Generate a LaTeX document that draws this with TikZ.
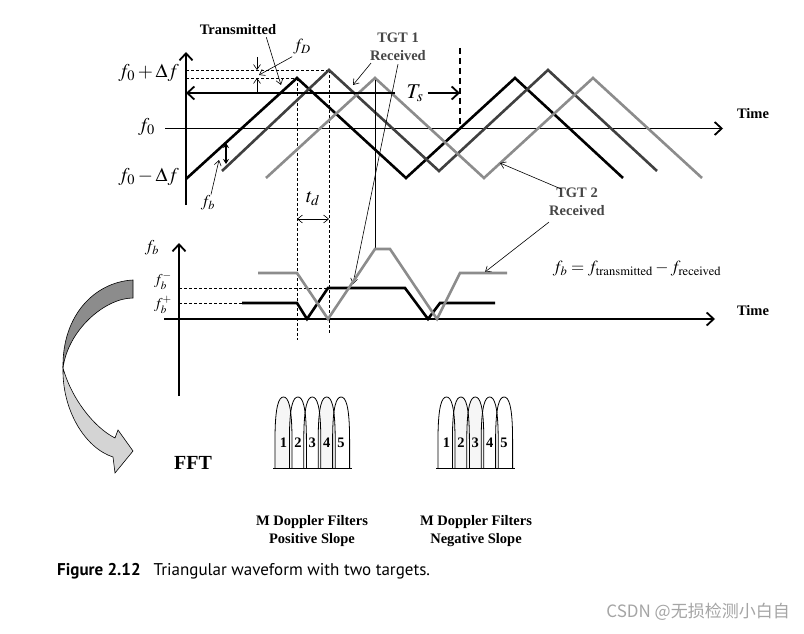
\documentclass[tikz,border=0pt]{standalone}
\usepackage{mathptmx}
\usepackage[no-math]{fontspec}
\setmainfont{Liberation Serif}
\newfontfamily\capfont{PT Sans}
\newfontfamily\cjkfont{Noto Sans CJK SC}
\usetikzlibrary{arrows.meta, positioning, calc}
\definecolor{tgtone}{RGB}{64, 64, 64}
\definecolor{tgttwo}{RGB}{140, 140, 140}
\definecolor{lblgray}{RGB}{70, 70, 70}
\definecolor{lobefill}{RGB}{246, 246, 246}
\definecolor{arrdark}{RGB}{140, 140, 140}
\definecolor{arrlite}{RGB}{212, 212, 212}
\definecolor{wmgray}{RGB}{165, 165, 165}
% one Doppler filter lobe, left side at #1
\newcommand{\lobeshape}[1]{(#1,468) -- (#1,440) .. controls (#1,405) and ({#1+4},397) .. ({#1+8.5},397) .. controls ({#1+13},397) and ({#1+17},405) .. ({#1+17},440) -- ({#1+17},468)}

\begin{document}
\begin{tikzpicture}[x=1pt, y=-1pt,
  lbl/.style={font=\fontsize{14.5pt}{18pt}\selectfont\bfseries,
    align=center, inner sep=0pt},
  mlbl/.style={font=\fontsize{19.5pt}{22pt}\selectfont, inner sep=0pt},
  slbl/.style={font=\fontsize{16.5pt}{19pt}\selectfont, inner sep=0pt},
  axis/.style={line width=1.8pt, -{Straight Barb[length=7pt, width=13pt]}},
  wave/.style={line width=2.6pt, line join=miter},
  ptr/.style={line width=0.6pt, -{Straight Barb[length=5pt, width=7pt]}},
  guide/.style={line width=0.7pt, dash pattern=on 3pt off 2pt},
  lobe/.style={line width=0.8pt}
]
\fill[white] (0,0) rectangle (804,634);
\useasboundingbox (0,0) rectangle (804,634);

% Upper plot: axes and guides
\draw[axis] (186,205) -- (186,52);
\draw[axis] (165,128.5) -- (723,128.5);
\node[lbl] at (753,114) (time1) {Time};
\node[mlbl, anchor=east] at (179,73) (fhi) {$f_0+\Delta f$};
\node[mlbl, anchor=east] at (155,127) (fmid) {$f_0$};
\node[mlbl, anchor=east] at (179,177) (flo) {$f_0-\Delta f$};
\draw[guide] (186,70) -- (329,70);
\draw[guide] (186,78) -- (297,78);
\draw[guide] (297,78) -- (297,340);
\draw[guide] (329,70) -- (329,333);
\draw[line width=1.8pt, dash pattern=on 6pt off 4pt] (460,48) -- (460,128);

% Triangular waveforms
\draw[wave, black] (186,179) -- (297,78) -- (406,178) -- (515,78) -- (623,178);
\draw[wave, tgtone] (222,171) -- (329,70) -- (439,171) -- (548,70) -- (657,171);
\draw[wave, tgttwo] (266,178) -- (375,78) -- (484,178) -- (593,78) -- (702,178);

% Sweep period
\coordinate (tsl) at (186,93);
\coordinate (tsr) at (460,93);
\node[font=\fontsize{21pt}{24pt}\selectfont, inner sep=0pt] at (415,93) (ts) {$T_s$};
\draw[line width=1.8pt, -{Straight Barb[length=7pt, width=13pt]}] ([xshift=-11pt]ts.west) -- (tsl);
\draw[line width=1.8pt, -{Straight Barb[length=7pt, width=13pt]}] ([xshift=4pt]ts.east) -- (tsr);

% Doppler shift
\coordinate (fdtop) at (257,70);
\coordinate (fdbot) at (257,78);
\draw[ptr] (257,57) -- (fdtop);
\draw[ptr] (257,93) -- (fdbot);
\node[font=\fontsize{17pt}{20pt}\selectfont, inner sep=0pt] at (302,47) (fd) {$f_D$};
\coordinate (fdtip) at (259,75);
\draw[ptr] ([xshift=-1pt, yshift=-2pt]fd.south west) -- (fdtip);

% Labels with pointers
\node[lbl] at (238,30) (tx) {Transmitted};
\coordinate (txtip) at (281,85);
\draw[ptr] ([xshift=-10pt, yshift=-2pt]tx.south east) -- (txtip);
\node[lbl, text=lblgray] at (398,47) (tgt1) {TGT 1\\Received};
\coordinate (tgt1tip) at (353,85);
\draw[ptr] ([xshift=1pt, yshift=-2pt]tgt1.south west) -- (tgt1tip);
\coordinate (tgt1low) at (353,284);
\draw[ptr] ([yshift=-3pt]tgt1.south) -- (tgt1low);
\draw[line width=0.6pt] (375,80) -- (375,249);
\node[lbl, text=lblgray] at (577,202) (tgt2) {TGT 2\\Received};
\coordinate (tgt2tip) at (500,163);
\draw[ptr] ([xshift=12pt, yshift=-1pt]tgt2.north west) -- (tgt2tip);
\coordinate (tgt2low) at (485,272);
\draw[ptr] ([yshift=-6pt]tgt2.south west) -- (tgt2low);

% Beat frequency and delay
\draw[line width=1.8pt, {Stealth[length=5pt, width=6pt]}-{Stealth[length=5pt, width=6pt]}] (226,143) -- (226,164);
\node[slbl] at (208,203) (fb1) {$f_b$};
\coordinate (fbtip) at (219,160);
\draw[ptr] ([xshift=3pt, yshift=1pt]fb1.north) -- (fbtip);
\coordinate (tdl) at (297,219);
\coordinate (tdr) at (329,219);
\draw[line width=0.6pt, {Straight Barb[length=5pt, width=8pt]}-{Straight Barb[length=5pt, width=8pt]}] (tdl) -- (tdr);
\node[font=\fontsize{20pt}{23pt}\selectfont, inner sep=0pt] at (313,199) (td) {$t_d$};

% Lower plot: beat frequency versus time
\draw[axis] (179,396) -- (179,243);
\draw[axis] (164,319) -- (715,319);
\node[lbl] at (753,311) (time2) {Time};
\node[slbl] at (152,248) (fb2) {$f_b$};
\node[font=\fontsize{15pt}{17pt}\selectfont, inner sep=0pt] at (163,281) (fbm) {$f_b^-$};
\node[font=\fontsize{15pt}{17pt}\selectfont, inner sep=0pt] at (163,305) (fbp) {$f_b^+$};
\draw[guide] (179,288) -- (328,288);
\draw[guide] (179,303) -- (242,303);
\draw[wave, black] (242,303) -- (297,303) -- (307,319) -- (328,288) -- (405,288) -- (428,319) -- (440,303) -- (495,303);
\draw[wave, tgttwo] (258,273) -- (297,273) -- (328,319) -- (375,249) -- (390,249) -- (437,319) -- (460,273) -- (507,273);
\node[font=\fontsize{17pt}{20pt}\selectfont, inner sep=0pt] at (637,269) (beat)
  {$f_b = f_{\mathrm{transmitted}} - f_{\mathrm{received}}$};

% FFT arrow
\draw[line width=0.6pt, fill=arrdark] (133,280) .. controls (95,282) and (62,315) .. (63,368)
  .. controls (68,330) and (105,298) .. (133,298) -- cycle;
\draw[line width=0.6pt, fill=arrlite] (63,368) .. controls (62,410) and (85,448) .. (113,457)
  -- (115,473) -- (133,451) -- (118,430) -- (115,438)
  .. controls (95,428) and (72,400) .. (63,368) -- cycle;
\node[font=\fontsize{20pt}{24pt}\selectfont\bfseries, inner sep=0pt] at (193,463) (fft) {FFT};

% Doppler filter banks
\foreach \i/\sh in {0/1, 1/0, 2/0, 3/1, 4/0} {
  \pgfmathsetmacro\L{275+14.4*\i}
  \ifnum\sh=1 \fill[lobefill] \lobeshape{\L} -- cycle; \fi
}
\foreach \i/\sh in {0/0, 1/1, 2/1, 3/0, 4/0} {
  \pgfmathsetmacro\L{438+14.4*\i}
  \ifnum\sh=1 \fill[lobefill] \lobeshape{\L} -- cycle; \fi
}
\foreach \i in {0,...,4} {
  \pgfmathsetmacro\L{275+14.4*\i}
  \pgfmathtruncatemacro\n{\i+1}
  \draw[lobe] \lobeshape{\L};
  \node[lbl] at ({\L+8.5},443) (pos\n) {\n};
  \pgfmathsetmacro\L{438+14.4*\i}
  \draw[lobe] \lobeshape{\L};
  \node[lbl] at ({\L+8.5},443) (neg\n) {\n};
}
\draw[lobe] (273,468) -- (352,468);
\draw[lobe] (436,468) -- (515,468);
\node[lbl] at (312,531) (posl) {M Doppler Filters\\Positive Slope};
\node[lbl] at (476,531) (negl) {M Doppler Filters\\Negative Slope};

% Caption and mark
\node[anchor=west, inner sep=0pt, font=\fontsize{17pt}{20pt}\capfont] at (57,571) (cap)
  {\bfseries Figure 2.12\hspace{13pt}\mdseries Triangular waveform with two targets.};
\node[anchor=east, inner sep=0pt, text=wmgray, font=\fontsize{17pt}{20pt}\cjkfont] at (790,612) (wm)
  {CSDN @无损检测小白自};
\end{tikzpicture}
\end{document}
